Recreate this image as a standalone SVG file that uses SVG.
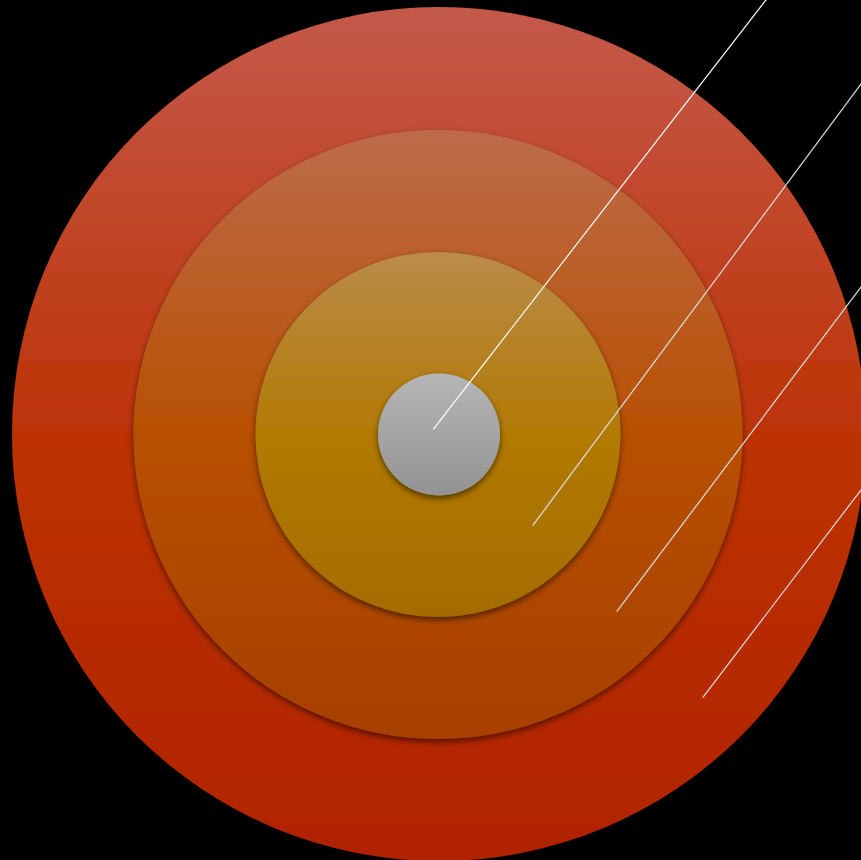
<svg xmlns="http://www.w3.org/2000/svg" width="861" height="860" viewBox="0 0 861 860">
<defs>
<linearGradient id="g1" x1="0" y1="0" x2="0" y2="1">
<stop offset="0" stop-color="#c4594a"/>
<stop offset="0.5" stop-color="#bd3306"/>
<stop offset="1" stop-color="#b02300"/>
</linearGradient>
<linearGradient id="g2" x1="0" y1="0" x2="0" y2="1">
<stop offset="0" stop-color="#bd6b4a"/>
<stop offset="0.5" stop-color="#b85002"/>
<stop offset="1" stop-color="#a73f00"/>
</linearGradient>
<linearGradient id="g3" x1="0" y1="0" x2="0" y2="1">
<stop offset="0" stop-color="#bb8b4a"/>
<stop offset="0.5" stop-color="#b27a04"/>
<stop offset="1" stop-color="#a46c00"/>
</linearGradient>
<linearGradient id="g4" x1="0" y1="0" x2="0" y2="1">
<stop offset="0" stop-color="#b6b6b6"/>
<stop offset="1" stop-color="#939393"/>
</linearGradient>
<filter id="sh" x="-10%" y="-10%" width="120%" height="120%">
<feDropShadow dx="0" dy="3" stdDeviation="3" flood-color="#000" flood-opacity="0.55"/>
</filter>
<style>
.ring{filter:url(#sh);}
.ln{stroke-width:1.2;fill:none;}
</style>
</defs>
<rect width="861" height="860" fill="#000"/>
<g id="ring1"><circle class="ring" cx="439" cy="434" r="427" fill="url(#g1)"/></g>
<g id="ring2"><circle class="ring" cx="438" cy="434.5" r="304.5" fill="url(#g2)"/></g>
<g id="ring3"><circle class="ring" cx="438" cy="434.5" r="182.5" fill="url(#g3)"/></g>
<g id="core"><circle class="ring" cx="439" cy="434.5" r="61" fill="url(#g4)"/></g>
<g id="connectors">
<line class="ln" stroke="#ffffff" x1="433.3" y1="429.3" x2="769" y2="-4"/>
<line class="ln" stroke="#e0e0e0" x1="532.7" y1="525.7" x2="864" y2="80"/>
<line class="ln" stroke="#e0e0e0" x1="616.7" y1="611.7" x2="864" y2="283"/>
<line class="ln" stroke="#e0e0e0" x1="702.7" y1="697.7" x2="864" y2="486"/>
</g>
</svg>
